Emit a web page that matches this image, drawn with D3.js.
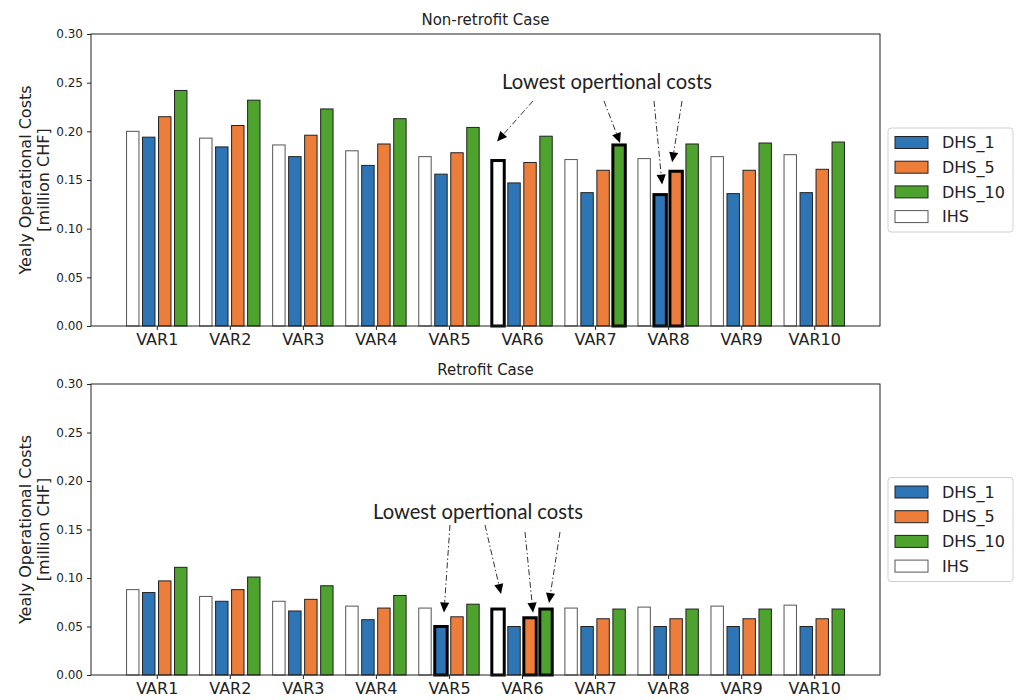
<!DOCTYPE html>
<html>
<head>
<meta charset="utf-8">
<script src="https://cdn.jsdelivr.net/npm/d3@7"></script>
<style>
  body { margin: 0; background: #fff; }
  text { font-family: "DejaVu Sans", sans-serif; fill: #222; }
</style>
</head>
<body>
<svg id="chart" width="1019" height="700"></svg>
<script>
// ---- data -------------------------------------------------------------
const categories = ["VAR1", "VAR2", "VAR3", "VAR4", "VAR5", "VAR6", "VAR7", "VAR8", "VAR9", "VAR10"];
const seriesNames = ["IHS", "DHS_1", "DHS_5", "DHS_10"];
const legendOrder = ["DHS_1", "DHS_5", "DHS_10", "IHS"];
const yTicks = [0.00, 0.05, 0.10, 0.15, 0.20, 0.25, 0.30];

// Non-retrofit case, yearly operational costs [million CHF]
const nonRetrofitIHS   = [0.200, 0.193, 0.186, 0.180, 0.174, 0.170, 0.171, 0.172, 0.174, 0.176];
const nonRetrofitDHS1  = [0.194, 0.184, 0.174, 0.165, 0.156, 0.147, 0.137, 0.135, 0.136, 0.137];
const nonRetrofitDHS5  = [0.215, 0.206, 0.196, 0.187, 0.178, 0.168, 0.160, 0.159, 0.160, 0.161];
const nonRetrofitDHS10 = [0.242, 0.232, 0.223, 0.213, 0.204, 0.195, 0.186, 0.187, 0.188, 0.189];

// Retrofit case, yearly operational costs [million CHF]
const retrofitIHS   = [0.088, 0.081, 0.076, 0.071, 0.069, 0.068, 0.069, 0.070, 0.071, 0.072];
const retrofitDHS1  = [0.085, 0.076, 0.066, 0.057, 0.050, 0.050, 0.050, 0.050, 0.050, 0.050];
const retrofitDHS5  = [0.097, 0.088, 0.078, 0.069, 0.060, 0.059, 0.058, 0.058, 0.058, 0.058];
const retrofitDHS10 = [0.111, 0.101, 0.092, 0.082, 0.073, 0.068, 0.068, 0.068, 0.068, 0.068];

// Bars with the lowest operational costs (outlined in bold)
const nonRetrofitLowest = [["VAR6", "IHS"], ["VAR7", "DHS_10"], ["VAR8", "DHS_1"], ["VAR8", "DHS_5"]];
const retrofitLowest    = [["VAR5", "DHS_1"], ["VAR6", "IHS"], ["VAR6", "DHS_5"], ["VAR6", "DHS_10"]];

// ---- styling / layout ------------------------------------------------------
const colors = { IHS: "#ffffff", DHS_1: "#2e75b6", DHS_5: "#ed7d3a", DHS_10: "#4ea22e" };
const edgeColors = { IHS: "#555555", DHS_1: "#222222", DHS_5: "#222222", DHS_10: "#222222" };

const svg = d3.select("#chart");
svg.append("rect").attr("width", 1019).attr("height", 700).attr("fill", "#fff");

const plotLeft = 91, plotRight = 880;
const x = d3.scaleLinear().domain([-0.9, 9.9]).range([plotLeft, plotRight]);
const barPitch = 0.219, barWidth = 0.17;

function annotationArrow(g, x1, y1, x2, y2) {
  const len = 10, half = 4.6;
  const dx = x2 - x1, dy = y2 - y1, d = Math.hypot(dx, dy);
  const ux = dx / d, uy = dy / d;
  const bx = x2 - ux * len, by = y2 - uy * len;
  g.append("line")
    .attr("x1", x1).attr("y1", y1).attr("x2", bx).attr("y2", by)
    .attr("stroke", "#333").attr("stroke-width", 1)
    .attr("stroke-dasharray", "6,2.5,1.5,2.5");
  g.append("path")
    .attr("d", `M${x2},${y2}L${bx - uy * half},${by + ux * half}L${bx + uy * half},${by - ux * half}Z`)
    .attr("fill", "#000");
}

function drawPanel(cfg) {
  const y = d3.scaleLinear().domain([0, 0.30]).range([cfg.bottom, cfg.top]);
  const g = svg.append("g");

  const rows = [];
  categories.forEach((c, i) => {
    seriesNames.forEach((s, j) => {
      rows.push({ cat: c, i, series: s, j, value: cfg.values[s][i] });
    });
  });
  const isLowest = d => cfg.lowest.some(([c, s]) => c === d.cat && s === d.series);
  const barX = d => x(d.i + (d.j - 1.5) * barPitch - barWidth / 2);
  const bw = x(barWidth) - x(0);

  // bars
  g.append("g").selectAll("rect").data(rows).join("rect")
    .attr("x", barX)
    .attr("y", d => y(d.value))
    .attr("width", bw)
    .attr("height", d => y(0) - y(d.value))
    .attr("fill", d => colors[d.series])
    .attr("stroke", d => isLowest(d) ? "#000" : edgeColors[d.series])
    .attr("stroke-width", d => isLowest(d) ? 3 : 1);

  // axes
  const yAxis = d3.axisLeft(y).tickValues(yTicks).tickFormat(d3.format(".2f")).tickSize(4).tickPadding(4).tickSizeOuter(0);
  const ga = g.append("g").attr("transform", `translate(${plotLeft},0)`).call(yAxis);
  ga.select(".domain").remove();
  ga.selectAll("text").attr("font-size", 12).attr("font-family", "DejaVu Sans").attr("fill", "#333");
  ga.selectAll("line").attr("stroke", "#222");

  const xAxis = d3.axisBottom(x).tickValues(d3.range(categories.length)).tickFormat(i => categories[i]).tickSize(4).tickPadding(4).tickSizeOuter(0);
  const gx = g.append("g").attr("transform", `translate(0,${cfg.bottom})`).call(xAxis);
  gx.select(".domain").remove();
  gx.selectAll("text").attr("font-size", 16).attr("font-family", "DejaVu Sans").attr("fill", "#222");
  gx.selectAll("line").attr("stroke", "#222");

  // frame
  g.append("rect")
    .attr("x", plotLeft).attr("y", cfg.top)
    .attr("width", plotRight - plotLeft).attr("height", cfg.bottom - cfg.top)
    .attr("fill", "none").attr("stroke", "#222").attr("stroke-width", 1);

  // title
  g.append("text")
    .attr("x", (plotLeft + plotRight) / 2).attr("y", cfg.top - 9)
    .attr("text-anchor", "middle").attr("font-size", 15)
    .text(cfg.title);

  // y label (two lines)
  const cy = (cfg.top + cfg.bottom) / 2;
  const yl = g.append("text")
    .attr("transform", `translate(31,${cy}) rotate(-90)`)
    .attr("text-anchor", "middle").attr("font-size", 16);
  yl.append("tspan").attr("x", 0).attr("dy", 0).text("Yealy Operational Costs");
  yl.append("tspan").attr("x", 0).attr("dy", 18).text("[million CHF]");

  // legend
  const lg = svg.append("g").attr("transform", `translate(888,${cy - 52})`);
  lg.append("rect").attr("width", 125).attr("height", 104).attr("rx", 3)
    .attr("fill", "#fff").attr("stroke", "#d0d0d0");
  legendOrder.forEach((s, k) => {
    const yy = 14.5 + k * 24.7;
    lg.append("rect").attr("x", 7).attr("y", yy - 6).attr("width", 33).attr("height", 12)
      .attr("fill", colors[s]).attr("stroke", edgeColors[s]).attr("stroke-width", 1);
    lg.append("text").attr("x", 54).attr("y", yy).attr("dy", "0.36em")
      .attr("font-size", 16).text(s);
  });

  // annotation
  const ann = svg.append("g");
  const t = ann.append("text")
    .attr("x", cfg.note.x).attr("y", cfg.note.y)
    .attr("text-anchor", "middle")
    .style("font-family", "Lato, 'Open Sans', sans-serif")
    .attr("font-size", 20).attr("fill", "#000")
    .text("Lowest opertional costs");
  const w = t.node().getComputedTextLength();
  t.attr("font-size", 20 * 210 / w);

  cfg.note.arrows.forEach(a => {
    const i = categories.indexOf(a.cat), j = seriesNames.indexOf(a.series);
    const tipX = x(i + (j - 1.5) * barPitch) + a.dx;
    const tipY = y(cfg.values[a.series][i]) + a.dy;
    annotationArrow(ann, a.from[0], a.from[1], tipX, tipY);
  });
}

drawPanel({
  title: "Non-retrofit Case",
  top: 34, bottom: 326,
  values: { IHS: nonRetrofitIHS, DHS_1: nonRetrofitDHS1, DHS_5: nonRetrofitDHS5, DHS_10: nonRetrofitDHS10 },
  lowest: nonRetrofitLowest,
  note: {
    x: 607, y: 89,
    arrows: [
      { from: [533, 101], cat: "VAR6", series: "IHS",    dx: -1, dy: -19 },
      { from: [604, 101], cat: "VAR7", series: "DHS_10", dx: 1,  dy: -2 },
      { from: [654, 101], cat: "VAR8", series: "DHS_1",  dx: 2,  dy: -10 },
      { from: [682, 101], cat: "VAR8", series: "DHS_5",  dx: -4, dy: -9 }
    ]
  }
});

drawPanel({
  title: "Retrofit Case",
  top: 384, bottom: 675,
  values: { IHS: retrofitIHS, DHS_1: retrofitDHS1, DHS_5: retrofitDHS5, DHS_10: retrofitDHS10 },
  lowest: retrofitLowest,
  note: {
    x: 478, y: 519,
    arrows: [
      { from: [450, 525], cat: "VAR5", series: "DHS_1",  dx: 3,  dy: -14 },
      { from: [485, 525], cat: "VAR6", series: "IHS",    dx: 3,  dy: -15 },
      { from: [525, 532], cat: "VAR6", series: "DHS_5",  dx: 3,  dy: -5 },
      { from: [560, 532], cat: "VAR6", series: "DHS_10", dx: 3,  dy: -6 }
    ]
  }
});
</script>
</body>
</html>
